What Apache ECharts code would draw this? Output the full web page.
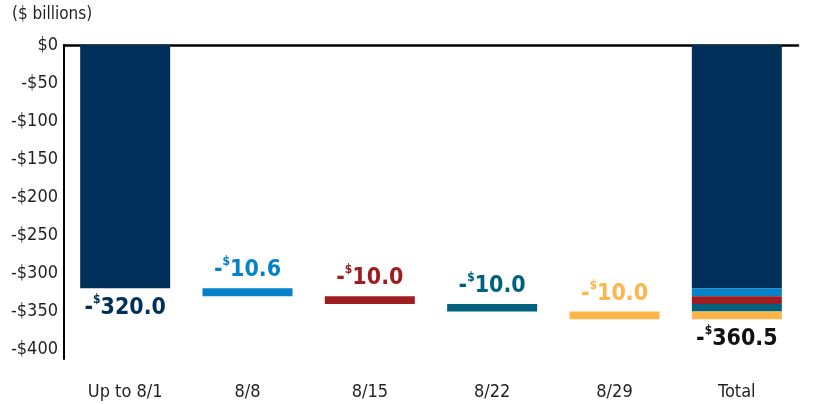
<!DOCTYPE html>
<html>
<head>
<meta charset="utf-8">
<script src="https://cdn.jsdelivr.net/npm/echarts@6/dist/echarts.min.js"></script>
<style>
  html, body { margin: 0; padding: 0; background: #fff; }
  #chart { width: 832px; height: 404px; }
</style>
</head>
<body>
<div id="chart"></div>
<script>
// weekly changes, $ billions
const categories = ['Up to 8/1', '8/8', '8/15', '8/22', '8/29', 'Total'];
const steps = [-320.0, -10.6, -10.0, -10.0, -10.0];
const stepLabels = ['320.0', '10.6', '10.0', '10.0', '10.0'];
const totalLabel = '360.5';
const tickValues = [0, -50, -100, -150, -200, -250, -300, -350, -400];
const colors = ['#00305a', '#0582ca', '#9d1d20', '#00617f', '#ffb54a'];

const font = 'DejaVu Sans Condensed';
const ink = '#231f20';

function richLabel(color) {
  return {
    m: { fontFamily: font, fontSize: 23, fontWeight: 'bold', color: color, lineHeight: 28 },
    s: { fontFamily: font, fontSize: 12, fontWeight: 'bold', color: color, verticalAlign: 'top', lineHeight: 28 }
  };
}

// invisible base so each step floats where the previous one ended
const base = [];
let run = 0;
for (let i = 0; i < steps.length; i++) {
  base.push(i === 0 ? null : run);
  run += steps[i];
}
base.push(null);

const series = [{
  type: 'bar',
  stack: 'w',
  barWidth: 90,
  silent: true,
  itemStyle: { color: 'transparent' },
  data: base
}];

steps.forEach((v, i) => {
  const data = categories.map((c, j) => {
    if (j === i) {
      return {
        value: v,
        label: {
          show: true,
          position: i === 0 ? 'bottom' : 'top',
          distance: i === 0 ? 6 : 4,
          formatter: '{m|-}{s|$}{m|' + stepLabels[i] + '}',
          rich: richLabel(colors[i])
        }
      };
    }
    if (j === categories.length - 1) {
      if (i === steps.length - 1) {
        return {
          value: v,
          label: {
            show: true,
            position: 'bottom',
            distance: 6,
            formatter: '{m|-}{s|$}{m|' + totalLabel + '}',
            rich: richLabel('#111111')
          }
        };
      }
      return v;
    }
    return null;
  });
  series.push({
    type: 'bar',
    stack: 'w',
    barWidth: 90,
    itemStyle: { color: colors[i] },
    data: data
  });
});

const chart = echarts.init(document.getElementById('chart'));
chart.setOption({
  animation: false,
  graphic: [{
    type: 'text',
    left: 12,
    top: 6,
    style: { text: '($ billions)', fontFamily: font, fontSize: 17, fill: ink }
  }],
  grid: { left: 64, right: 34, top: 45, bottom: 45 },
  xAxis: [{
    type: 'category',
    position: 'bottom',
    data: categories,
    axisLine: { show: false },
    axisTick: { show: false },
    axisLabel: { margin: 24, fontFamily: font, fontSize: 18, color: ink }
  }, {
    type: 'category',
    position: 'top',
    data: categories,
    axisLine: { show: true, onZero: false, lineStyle: { color: '#000', width: 2.5 } },
    axisTick: { show: false },
    axisLabel: { show: false }
  }],
  yAxis: {
    type: 'value',
    min: -413,
    max: 0,
    splitLine: { show: false },
    axisLine: { show: true, lineStyle: { color: '#000', width: 2 } },
    axisTick: { show: false, customValues: tickValues },
    axisLabel: {
      customValues: tickValues,
      margin: 6,
      fontFamily: font,
      fontSize: 18,
      color: ink,
      formatter: v => v === 0 ? '$0' : '-$' + Math.abs(v)
    }
  },
  series: series
});
</script>
</body>
</html>
